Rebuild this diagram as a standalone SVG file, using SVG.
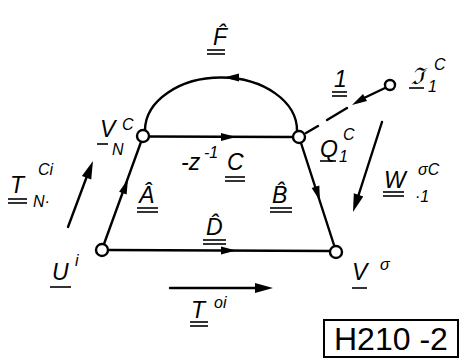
<svg xmlns="http://www.w3.org/2000/svg" width="460" height="359" viewBox="0 0 460 359">
<style>
.e{fill:none;stroke:#000;stroke-width:2.4;stroke-linecap:round}
.n{fill:#fff;stroke:#000;stroke-width:2.4}
.t{font-family:"Liberation Sans",Arial,sans-serif;font-style:italic;font-size:23px;fill:#000}
.s{font-family:"Liberation Sans",Arial,sans-serif;font-style:italic;font-size:16px;fill:#000}
.u{stroke:#000;stroke-width:1.6}
.box{font-family:"Liberation Sans",Arial,sans-serif;font-size:32px;fill:#000}
</style>
<defs>
<path id="ah" d="M0,0 L-15,-4 L-15,4 Z" fill="#000"/>
<path id="ahb" d="M0,0 L-18,-5 L-18,5 Z" fill="#000"/>
</defs>
<rect width="460" height="359" fill="#fff"/>
<g id="connectors">
<path class="e" d="M145,130 A76,53 0 0 1 297,131"/>
<use href="#ah" transform="translate(224,77.5) rotate(180)"/>
<path class="e" d="M149,136.5 L293,137"/>
<use href="#ah" transform="translate(236,137)"/>
<path class="e" d="M104,244 L141,142"/>
<use href="#ah" transform="translate(128,179) rotate(-70)"/>
<path class="e" d="M301,143 L334,245"/>
<use href="#ah" transform="translate(320,201) rotate(72.5)"/>
<path class="e" d="M108,250 L331,251"/>
<use href="#ah" transform="translate(236,250.5)"/>
<path class="e" d="M385,88 L364,98"/>
<use href="#ah" transform="translate(352,105) rotate(150)"/>
<path class="e" d="M347,108 L327,120 M318,126 L306,133"/>
<path class="e" d="M68,227 L90,168"/>
<use href="#ahb" transform="translate(93,161) rotate(-69)"/>
<path class="e" d="M382,122 L356,203"/>
<use href="#ahb" transform="translate(353,212) rotate(108)"/>
<path class="e" d="M170,288 L258,288"/>
<use href="#ahb" transform="translate(273,288)"/>
</g>
<g id="node-VNC">
<circle class="n" cx="143" cy="136" r="6"/>
<text class="t" x="100" y="137">V</text>
<text class="s" x="122" y="130">C</text>
<text class="s" x="112" y="155">N</text>
<line class="u" x1="97" y1="144" x2="108" y2="144"/>
</g>
<g id="node-Q1C">
<circle class="n" cx="299" cy="137" r="6"/>
<text class="t" x="320" y="157">Q</text>
<text class="s" x="343" y="140">C</text>
<text class="s" x="339" y="162" font-size="14">1</text>
<line class="u" x1="320" y1="161" x2="336" y2="161"/>
</g>
<g id="node-Ui">
<circle class="n" cx="102" cy="250" r="6"/>
<text class="t" x="52" y="280">U</text>
<text class="s" x="75" y="266">i</text>
<line class="u" x1="50" y1="287" x2="71" y2="287"/>
</g>
<g id="node-Vo">
<circle class="n" cx="336" cy="252" r="6"/>
<text class="t" x="352" y="280">V</text>
<text class="s" x="380" y="270">σ</text>
<line class="u" x1="352" y1="288" x2="367" y2="288"/>
</g>
<g id="node-source">
<circle class="n" cx="390" cy="85" r="5"/>
<text class="t" x="411" y="84">ℑ</text>
<text class="s" x="434" y="70">C</text>
<text class="s" x="428" y="92" font-size="14">1</text>
<line class="u" x1="409" y1="88" x2="424" y2="88"/>
</g>
<g id="labels">
<text class="t" x="213" y="45">F̂</text>
<line class="u" x1="207" y1="50" x2="225" y2="50"/><line class="u" x1="207" y1="54" x2="225" y2="54"/>
<text class="t" x="181" y="170">-z</text>
<text class="s" x="204" y="158" font-size="15">-1</text>
<text class="t" x="227" y="170">C</text>
<line class="u" x1="225" y1="177" x2="245" y2="177"/><line class="u" x1="225" y1="181" x2="245" y2="181"/>
<text class="t" x="139" y="203">Â</text>
<line class="u" x1="137" y1="208" x2="158" y2="208"/><line class="u" x1="137" y1="212" x2="158" y2="212"/>
<text class="t" x="272" y="203">B̂</text>
<line class="u" x1="270" y1="208" x2="292" y2="208"/><line class="u" x1="270" y1="212" x2="292" y2="212"/>
<text class="t" x="206" y="235">D̂</text>
<line class="u" x1="203" y1="240" x2="226" y2="240"/><line class="u" x1="203" y1="244" x2="226" y2="244"/>
<text class="t" x="334" y="87" font-size="18">1</text>
<line class="u" x1="332" y1="92" x2="347" y2="92"/><line class="u" x1="332" y1="96" x2="347" y2="96"/>
<text class="t" x="10" y="193">T</text>
<text class="s" x="38" y="175" font-size="18">Ci</text>
<text class="s" x="33" y="207" font-size="18">N·</text>
<line class="u" x1="8" y1="199" x2="27" y2="199"/><line class="u" x1="8" y1="203" x2="27" y2="203"/>
<text class="t" x="191" y="318">T</text>
<text class="s" x="214" y="308">oi</text>
<line class="u" x1="190" y1="322" x2="208" y2="322"/><line class="u" x1="190" y1="326" x2="208" y2="326"/>
<text class="t" x="384" y="188">W</text>
<text class="s" x="418" y="175" font-size="18">σC</text>
<text class="s" x="415" y="202" font-size="15">·1</text>
<line class="u" x1="383" y1="192" x2="404" y2="192"/><line class="u" x1="383" y1="196" x2="404" y2="196"/>
</g>
<g id="tag">
<rect x="324" y="320" width="134" height="37" fill="none" stroke="#000" stroke-width="2"/>
<text class="box" x="334" y="350">H210 -2</text>
</g>
</svg>
